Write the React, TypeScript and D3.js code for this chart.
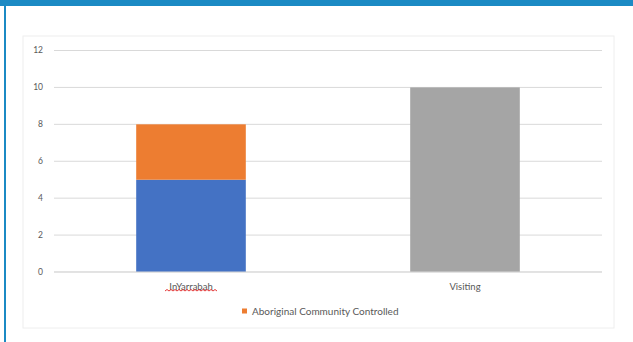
import React from "react";
import * as d3 from "d3";

const categories = ["InYarrabah", "Visiting"];
const blueValues = [5, 0];
const orangeValues = [3, 0];
const grayValues = [0, 10];
const yTicks = [0, 2, 4, 6, 8, 10, 12];
const legendLabel = "Aboriginal Community Controlled";

const W = 633;
const H = 342;

export default function App() {
  const x = d3.scaleBand().domain(categories).range([54, 602]).paddingInner(0.6).paddingOuter(0.3);
  const y = d3.scaleLinear().domain([0, 12]).range([272, 50.5]);
  const font = "Lato, 'Open Sans', sans-serif";

  const stacks = categories.map((c, i) => {
    const segs: { y0: number; y1: number; color: string }[] = [];
    let acc = 0;
    const parts = [
      { v: blueValues[i], color: "#4472C4" },
      { v: orangeValues[i], color: "#ED7D31" },
      { v: grayValues[i], color: "#A5A5A5" },
    ];
    parts.forEach((p) => {
      if (p.v > 0) {
        segs.push({ y0: acc, y1: acc + p.v, color: p.color });
        acc += p.v;
      }
    });
    return { c, segs };
  });

  const cx0 = x("InYarrabah")! + x.bandwidth() / 2;
  const sqStart = cx0 - 26;
  const sqEnd = cx0 + 26;
  let sq = `M${sqStart},291`;
  for (let xx = sqStart, k = 0; xx < sqEnd; xx += 2, k++) {
    sq += ` L${xx + 2},${k % 2 === 0 ? 289.5 : 291}`;
  }

  return (
    <div style={{ position: "absolute", left: 0, top: 0 }}>
      <svg width={W} height={H} style={{ display: "block", background: "#fff" }}>
        <rect x={0} y={0} width={W} height={6} fill="#1B8AC4" />
        <rect x={4} y={6} width={2} height={H - 6} fill="#1B8AC4" />
        <rect x={23} y={36} width={591} height={292} fill="#fff" stroke="#eeeeee" strokeWidth={1} />
        {yTicks.map((t) => (
          <g key={t}>
            <line x1={54} x2={602} y1={y(t)} y2={y(t)} stroke="#d9d9d9" strokeWidth={1} />
            <text x={43} y={y(t)} dy="0.35em" textAnchor="end" fontFamily={font} fontSize={8.5} fill="#595959">
              {t}
            </text>
          </g>
        ))}
        {stacks.map((s) =>
          s.segs.map((seg, j) => (
            <rect
              key={s.c + j}
              x={x(s.c)}
              width={x.bandwidth()}
              y={y(seg.y1)}
              height={y(seg.y0) - y(seg.y1)}
              fill={seg.color}
            />
          ))
        )}
        <line x1={54} x2={602} y1={y(0)} y2={y(0)} stroke="#d9d9d9" strokeWidth={1} />
        {categories.map((c) => (
          <text
            key={c}
            x={x(c)! + x.bandwidth() / 2}
            y={287}
            dy="0.35em"
            textAnchor="middle"
            fontFamily={font}
            fontSize={9.5}
            fill="#595959"
          >
            {c}
          </text>
        ))}
        <path d={sq} fill="none" stroke="#e02020" strokeWidth={0.9} />
        <rect x={242} y={308.5} width={5} height={5} fill="#ED7D31" />
        <text x={252} y={311} dy="0.35em" fontFamily={font} fontSize={10} fill="#595959">
          {legendLabel}
        </text>
      </svg>
    </div>
  );
}
